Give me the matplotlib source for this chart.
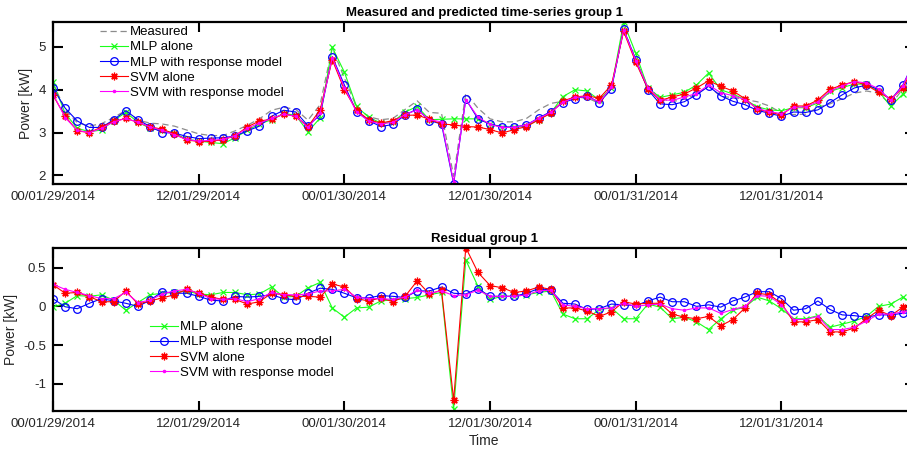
import numpy as np
import matplotlib
matplotlib.use("Agg")
from matplotlib import pyplot as plt

plt.rcParams['font.family'] = ['Liberation Sans', 'DejaVu Sans']
plt.rcParams['axes.unicode_minus'] = False

# hourly samples, hour 0 = 00:00 on 01/29/2014
hours = np.arange(72)
tick_hours = [0, 12, 24, 36, 48, 60]
tick_labels = ['00/01/29/2014', '12/01/29/2014', '00/01/30/2014',
               '12/01/30/2014', '00/01/31/2014', '12/01/31/2014']

measured = [4.15, 3.54, 3.23, 3.15, 3.21, 3.35, 3.52, 3.29, 3.22, 3.20,
            3.15, 3.06, 2.97, 2.93, 2.93, 3.04, 3.17, 3.32, 3.52, 3.59,
            3.54, 3.29, 3.65, 4.98, 4.27, 3.60, 3.37, 3.30, 3.33, 3.54,
            3.74, 3.47, 3.45, 1.98, 3.92, 3.57, 3.32, 3.25, 3.25, 3.33,
            3.53, 3.68, 3.73, 3.82, 3.81, 3.68, 4.04, 5.42, 4.69, 4.07,
            3.80, 3.72, 3.78, 3.89, 4.09, 3.84, 3.82, 3.77, 3.72, 3.62,
            3.46, 3.42, 3.43, 3.59, 3.67, 3.79, 3.92, 3.97, 3.92, 3.65,
            4.02, 4.60]
mlp_alone = [4.17, 3.45, 3.10, 3.02, 3.06, 3.28, 3.47, 3.24, 3.10, 3.05,
             2.98, 2.85, 2.80, 2.77, 2.74, 2.88, 3.05, 3.20, 3.30, 3.45,
             3.40, 3.02, 3.34, 4.99, 4.41, 3.61, 3.36, 3.22, 3.25, 3.48,
             3.61, 3.30, 3.31, 3.32, 3.32, 3.32, 3.20, 3.13, 3.12, 3.15,
             3.30, 3.46, 3.84, 4.00, 3.97, 3.76, 4.05, 5.57, 4.85, 4.04,
             3.82, 3.88, 3.94, 4.11, 4.39, 4.00, 3.90, 3.77, 3.60, 3.53,
             3.51, 3.58, 3.58, 3.69, 3.96, 4.05, 4.13, 4.13, 3.97, 3.61,
             3.90, 4.30]
mlp_resp = [4.04, 3.57, 3.27, 3.12, 3.12, 3.30, 3.51, 3.30, 3.14, 3.00,
            2.99, 2.91, 2.86, 2.87, 2.88, 2.92, 3.04, 3.15, 3.38, 3.52,
            3.48, 3.16, 3.41, 4.77, 4.11, 3.49, 3.28, 3.14, 3.19, 3.41,
            3.55, 3.28, 3.20, 1.81, 3.78, 3.32, 3.20, 3.13, 3.13, 3.18,
            3.34, 3.49, 3.70, 3.79, 3.86, 3.70, 4.02, 5.41, 4.70, 4.00,
            3.67, 3.65, 3.72, 3.88, 4.08, 3.86, 3.73, 3.65, 3.52, 3.45,
            3.38, 3.48, 3.47, 3.53, 3.70, 3.88, 4.04, 4.11, 4.01, 3.76,
            4.11, 4.70]
svm_alone = [3.87, 3.38, 3.04, 3.00, 3.13, 3.26, 3.33, 3.24, 3.13, 3.08,
             2.97, 2.83, 2.79, 2.80, 2.83, 2.93, 3.13, 3.27, 3.31, 3.43,
             3.38, 3.14, 3.53, 4.70, 4.00, 3.52, 3.30, 3.22, 3.28, 3.40,
             3.41, 3.31, 3.20, 3.18, 3.14, 3.13, 3.07, 2.99, 3.07, 3.14,
             3.30, 3.45, 3.74, 3.83, 3.86, 3.80, 4.11, 5.36, 4.64, 4.02,
             3.75, 3.83, 3.90, 4.04, 4.21, 4.08, 3.97, 3.79, 3.55, 3.48,
             3.41, 3.62, 3.62, 3.76, 4.01, 4.11, 4.19, 4.11, 3.94, 3.78,
             4.04, 4.60]
svm_resp = [3.90, 3.35, 3.05, 3.00, 3.10, 3.25, 3.33, 3.24, 3.13, 3.05,
            2.95, 2.84, 2.80, 2.82, 2.84, 2.93, 3.10, 3.22, 3.33, 3.43,
            3.38, 3.12, 3.45, 4.75, 4.05, 3.48, 3.27, 3.20, 3.24, 3.42,
            3.53, 3.30, 3.25, 1.84, 3.77, 3.36, 3.19, 3.12, 3.12, 3.18,
            3.33, 3.47, 3.71, 3.82, 3.84, 3.71, 4.06, 5.40, 4.68, 4.05,
            3.77, 3.75, 3.83, 3.91, 4.11, 3.93, 3.86, 3.77, 3.56, 3.49,
            3.44, 3.59, 3.60, 3.72, 3.97, 4.09, 4.19, 4.16, 4.02, 3.75,
            4.09, 4.70]

res_mlp_alone = [-0.01, 0.04, 0.14, 0.13, 0.15, 0.08, -0.05, 0.05, 0.15, 0.17,
                 0.18, 0.20, 0.16, 0.15, 0.18, 0.18, 0.15, 0.16, 0.25, 0.12,
                 0.13, 0.24, 0.31, -0.02, -0.14, -0.02, -0.01, 0.07, 0.085, 0.10,
                 0.115, 0.15, 0.18, -1.33, 0.60, 0.26, 0.09, 0.13, 0.13, 0.15,
                 0.18, 0.20, -0.10, -0.16, -0.16, -0.04, -0.02, -0.16, -0.16, 0.03,
                 -0.01, -0.16, -0.14, -0.20, -0.30, -0.16, -0.05, -0.01, 0.12, 0.07,
                 -0.03, -0.16, -0.16, -0.12, -0.27, -0.23, -0.19, -0.13, 0.00, 0.03,
                 0.12, 0.02]
res_mlp_resp = [0.10, -0.005, -0.03, 0.04, 0.10, 0.07, 0.04, 0.00, 0.08, 0.19,
                0.17, 0.17, 0.13, 0.08, 0.07, 0.13, 0.12, 0.13, 0.15, 0.10,
                0.085, 0.17, 0.235, 0.22, 0.17, 0.11, 0.11, 0.14, 0.13, 0.115,
                0.20, 0.20, 0.25, 0.17, 0.16, 0.23, 0.13, 0.13, 0.13, 0.17,
                0.23, 0.21, 0.04, 0.03, -0.04, -0.03, 0.03, 0.02, 0.01, 0.07,
                0.12, 0.06, 0.06, 0.00, 0.02, -0.01, 0.07, 0.12, 0.19, 0.19,
                0.10, -0.05, -0.03, 0.07, -0.04, -0.11, -0.12, -0.14, -0.11, -0.11,
                -0.09, -0.08]
res_svm_alone = [0.28, 0.17, 0.18, 0.125, 0.06, 0.06, 0.20, 0.03, 0.07, 0.11,
                 0.15, 0.22, 0.17, 0.12, 0.09, 0.09, 0.03, 0.06, 0.17, 0.15,
                 0.13, 0.13, 0.12, 0.29, 0.25, 0.10, 0.07, 0.11, 0.06, 0.13,
                 0.33, 0.16, 0.21, -1.21, 0.76, 0.44, 0.27, 0.24, 0.18, 0.20,
                 0.25, 0.22, -0.02, -0.02, -0.06, -0.13, -0.07, 0.06, 0.03, 0.04,
                 0.04, -0.10, -0.14, -0.16, -0.13, -0.25, -0.17, -0.02, 0.17, 0.15,
                 0.04, -0.20, -0.20, -0.17, -0.33, -0.33, -0.28, -0.16, -0.05, -0.12,
                 -0.01, 0.00]
res_svm_resp = [0.285, 0.22, 0.18, 0.14, 0.10, 0.10, 0.18, 0.05, 0.08, 0.16,
                0.20, 0.22, 0.17, 0.10, 0.09, 0.10, 0.06, 0.10, 0.18, 0.15,
                0.15, 0.16, 0.20, 0.20, 0.22, 0.12, 0.10, 0.10, 0.09, 0.12,
                0.21, 0.17, 0.20, 0.14, 0.15, 0.21, 0.13, 0.13, 0.13, 0.15,
                0.20, 0.21, 0.02, 0.00, -0.03, -0.03, -0.02, 0.04, 0.00, 0.02,
                0.03, -0.03, -0.05, -0.02, -0.02, -0.09, -0.04, 0.00, 0.14, 0.13,
                0.02, -0.17, -0.17, -0.13, -0.30, -0.30, -0.27, -0.19, -0.10, -0.10,
                -0.07, -0.06]

names = ['MLP alone', 'MLP with response model', 'SVM alone', 'SVM with response model']
# (8, 2, 0) -> asterisk like matlab '*'
styles = [dict(color=(0.1, 1.0, 0.1), marker='x', ms=4.5, mew=0.9),
          dict(color=(0.0, 0.0, 1.0), marker='o', ms=5.5, mfc='none', mew=0.9),
          dict(color=(1.0, 0.0, 0.0), marker=(8, 2, 0), ms=5.5, mew=0.9),
          dict(color=(1.0, 0.0, 1.0), marker='.', ms=3.5, mew=0.8)]
text_col = '#262626'

fig = plt.figure(figsize=(9.07, 4.5), dpi=100)
ax1 = fig.add_axes([53 / 907, 1 - 184 / 450, 862 / 907, 162 / 450])
ax2 = fig.add_axes([53 / 907, 1 - 411 / 450, 862 / 907, 163 / 450])

ax1.plot(hours, measured, '--', color=(0.55, 0.55, 0.55), lw=0.9, dashes=(5, 3), label='Measured')
for series, name, st in zip([mlp_alone, mlp_resp, svm_alone, svm_resp], names, styles):
    ax1.plot(hours, series, lw=0.8, label=name, **st)

for series, name, st in zip([res_mlp_alone, res_mlp_resp, res_svm_alone, res_svm_resp], names, styles):
    ax2.plot(hours, series, lw=0.8, label=name, **st)

ax1.set_ylim(1.8, 5.58)
ax1.set_yticks([2, 3, 4, 5])
ax1.set_yticklabels(['2', '3', '4', '5'])
ax2.set_ylim(-1.353, 0.755)
ax2.set_yticks([-1, -0.5, 0, 0.5])
ax2.set_yticklabels(['-1', '-0.5', '0', '0.5'])

for ax in (ax1, ax2):
    ax.set_xlim(0, 71)
    ax.set_xticks(tick_hours)
    ax.set_xticklabels(tick_labels)
    ax.tick_params(direction='in', length=7, width=1.5, top=True, right=True,
                   labelsize=9.5, labelcolor=text_col, pad=5)
    for s in ax.spines.values():
        s.set_linewidth(1.6)
        s.set_color('black')
    ax.set_ylabel('Power [kW]', fontsize=10, color=text_col, labelpad=4)

ax1.set_title('Measured and predicted time-series group 1', fontsize=9.5,
              fontweight='bold', pad=4)
ax2.set_title('Residual group 1', fontsize=9.5, fontweight='bold', pad=4)
ax2.set_xlabel('Time', fontsize=10, color=text_col, labelpad=3)

leg_kw = dict(loc='upper left', frameon=False, fontsize=9.5, handlelength=2.1,
              handletextpad=0.15, labelspacing=0.22, borderpad=0, borderaxespad=0)
ax1.legend(bbox_to_anchor=(100 / 907, 1 - 26 / 450), bbox_transform=fig.transFigure, **leg_kw)
ax2.legend(bbox_to_anchor=(150 / 907, 1 - 321 / 450), bbox_transform=fig.transFigure, **leg_kw)

fig.savefig('out.png', dpi=100)
